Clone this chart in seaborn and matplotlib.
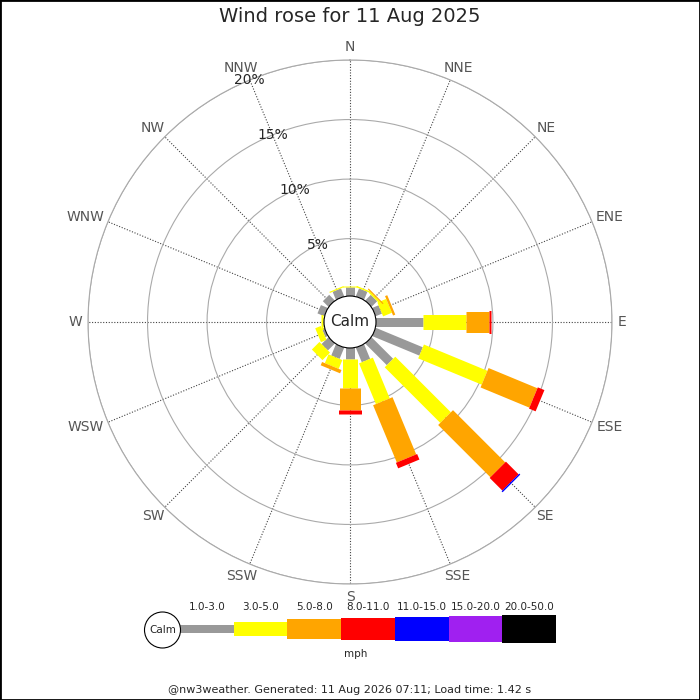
import numpy as np
import pandas as pd
import matplotlib.pyplot as plt
import seaborn as sns
from matplotlib.patches import Circle, Rectangle

sns.set_style('white')
plt.rcParams['font.family'] = ['DejaVu Sans']

# wind rose data, % of the day per direction and speed band
directions = ['N', 'NNE', 'NE', 'ENE', 'E', 'ESE', 'SE', 'SSE',
              'S', 'SSW', 'SW', 'WSW', 'W', 'WNW', 'NW', 'NNW']
spd_1_3 = [0.9, 0.9, 0.85, 0.75, 4.1, 4.46, 2.75, 1.5, 1.1, 1.2, 1.0, 0.4, 0.3, 0.8, 0.85, 0.9]
spd_3_5 = [0.13, 0.12, 0.15, 0.8, 3.6, 5.77, 6.6, 3.7, 2.4, 0.8, 0.9, 0.5, 0.15, 0, 0, 0.1]
spd_5_8 = [0, 0, 0.1, 0.2, 2.0, 4.44, 6.2, 5.2, 1.9, 0.3, 0, 0, 0, 0, 0, 0]
spd_8_11 = [0, 0, 0, 0, 0.1, 0.6, 1.5, 0.5, 0.3, 0, 0, 0, 0, 0, 0, 0]
spd_11_15 = [0, 0, 0, 0, 0, 0, 0.12, 0, 0, 0, 0, 0, 0, 0, 0, 0]
spd_15_20 = [0] * 16
spd_20_50 = [0] * 16

bands = ['1.0-3.0', '3.0-5.0', '5.0-8.0', '8.0-11.0', '11.0-15.0', '15.0-20.0', '20.0-50.0']
band_colors = ['#999999', '#ffff00', '#ffa500', '#ff0000', '#0000ff', '#a020f0', '#000000']
band_px = [9, 15, 21, 23, 25, 27, 29]
ring_ticks = [5, 10, 15, 20]

df = pd.DataFrame({b: v for b, v in zip(bands, [spd_1_3, spd_3_5, spd_5_8, spd_8_11,
                                                   spd_11_15, spd_15_20, spd_20_50])},
                  index=directions)

fig = plt.figure(figsize=(7, 7), dpi=100)
ax = fig.add_axes([0.1257, 0.1657, 0.7486, 0.7486], projection='polar')
ax.set_theta_zero_location('N')
ax.set_theta_direction(-1)
ax.set_ylim(0, 20)
ax.set_rorigin(-2.0)
ax.set_axisbelow(True)

angles = np.arange(16) * 22.5
theta = np.deg2rad(angles)
ax.set_xticks(theta)
ax.set_xticklabels([])
ax.xaxis.grid(True, linestyle=(0, (1, 1.5)), color='#444444', linewidth=0.8)
ax.set_yticks(ring_ticks)
ax.set_yticklabels([])
ax.yaxis.grid(True, linestyle='-', color='#aaaaaa', linewidth=0.8)
ax.spines['polar'].set_color('#aaaaaa')
ax.spines['polar'].set_linewidth(0.8)

# compass labels sit just outside the outer ring
compass = []
for th, name in zip(theta, directions):
    a = ax.annotate(name, xy=(th, 20), xytext=(0, 0), textcoords='offset pixels',
                    ha='center', va='center', fontsize=10, color='#555555',
                    annotation_clip=False)
    compass.append((th, a))
fig.canvas.draw()
gap = 5.5
for th, a in compass:
    bb = a.get_window_extent()
    a.xyann = (np.sin(th) * (bb.width / 2 + gap), np.cos(th) * (bb.height / 2 + gap))

for r in ring_ticks:
    ax.text(np.deg2rad(337.5), r, f'{r}%', ha='center', va='center', fontsize=10, zorder=5)

# stacked radial bars
base = np.zeros(len(directions))
for band, color, px in zip(bands, band_colors, band_px):
    vals = df[band].values
    for th, b, v in zip(theta, base, vals):
        if v > 0:
            ax.plot([th, th], [b, b + v], color=color, lw=px * 0.72,
                    solid_capstyle='butt', zorder=3)
    base = base + vals

ax.add_patch(Circle((0.5, 0.5), 0.0496, transform=ax.transAxes, facecolor='white',
                    edgecolor='black', lw=0.8, zorder=6, clip_on=False))
ax.text(0.5, 0.5, 'Calm', transform=ax.transAxes, ha='center', va='center',
        fontsize=11, zorder=7)

# legend strip (pixel coordinates)
leg = fig.add_axes([0, 0, 1, 1], zorder=-1)
leg.set_xlim(0, 700)
leg.set_ylim(700, 0)
leg.axis('off')
seg_w = 53.7
lefts = 180 + seg_w * np.arange(len(bands))
heights = np.array(band_px) - 1
leg.bar(lefts, heights, width=seg_w, bottom=629 - heights / 2, align='edge',
        color=band_colors, linewidth=0)
for x, lab in zip(lefts, bands):
    leg.text(x + seg_w / 2, 607, lab, ha='center', va='center', fontsize=7.5)
leg.add_patch(Circle((162.5, 630), 18, facecolor='white', edgecolor='black', lw=0.8))
leg.text(162.5, 630, 'Calm', ha='center', va='center', fontsize=7.5)
leg.text(356, 654, 'mph', ha='center', va='center', fontsize=7.5)

fig.text(0.5, 1 - 17 / 700, 'Wind rose for 11 Aug 2025', ha='center', va='center', fontsize=14)
fig.text(0.5, 1 - 690 / 700, '@nw3weather. Generated: 11 Aug 2026 07:11; Load time: 1.42 s',
         ha='center', va='center', fontsize=8)
fig.add_artist(Rectangle((0, 0), 1, 1, transform=fig.transFigure, fill=False,
                         edgecolor='black', lw=2))

fig.savefig('out.png', dpi=100)
